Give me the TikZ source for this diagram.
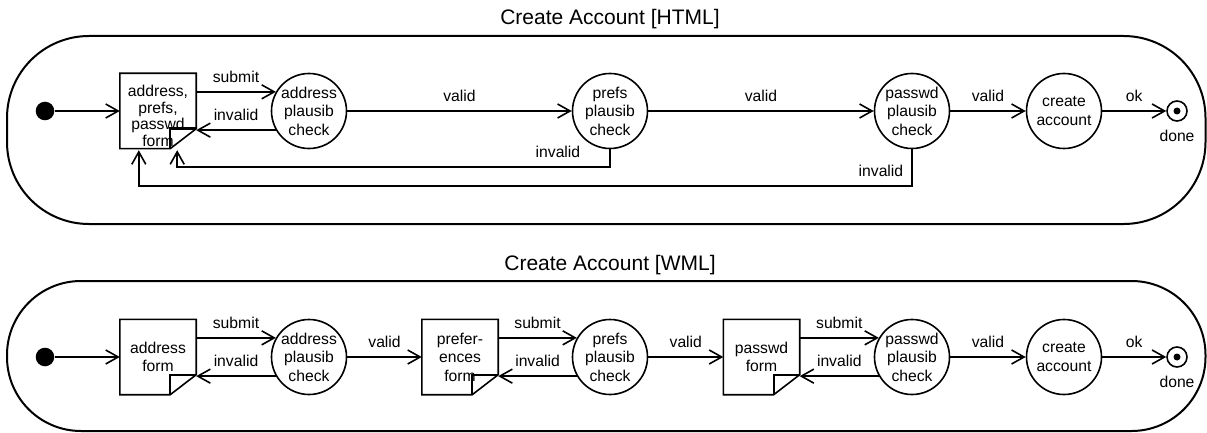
\documentclass[tikz,border=0pt]{standalone}
\usepackage{fontspec}
\setmainfont{Liberation Sans}
\usetikzlibrary{arrows.meta,calc}
\newcommand\formshape[1]{%
  \draw[line width=1.6pt, line join=miter] (#1.north west) -- (#1.north east) -- ([yshift=20pt]#1.south east) -- ([xshift=-26pt]#1.south east) -- (#1.south west) -- cycle;
  \draw[line width=2.4pt, line join=miter] ([xshift=-26pt]#1.south east) -- ([xshift=-26pt,yshift=20pt]#1.south east) -- ([yshift=20pt]#1.south east);}
\begin{document}
\begin{tikzpicture}[x=1pt,y=-1pt,
  every node/.style={font=\fontsize{15.7}{18.5}\selectfont},
  titlenode/.style={anchor=base, font=\fontsize{21}{24}\selectfont},
  statenode/.style={circle, draw, line width=1.6pt, minimum size=75pt, inner sep=0pt, align=center},
  formnode/.style={rectangle, minimum width=76pt, minimum height=75pt, inner sep=0pt, align=center},
  initdot/.style={circle, fill, minimum size=18.6pt, inner sep=0pt},
  finalnode/.style={circle, draw, line width=1.6pt, minimum size=20pt, inner sep=0pt,
     label={[inner sep=0pt, label distance=8pt]below:done}},
  arr/.style={line width=1.6pt, -{Straight Barb[length=12.5pt,width=14pt]}},
  lbl/.style={inner sep=0pt, above=8.5pt},
  panel/.style={line width=2pt}]
\useasboundingbox (0,0) rectangle (1207,433);

% ---------- top panel ----------
\node[titlenode] (t1) at (610,25) {Create Account [HTML]};
\draw[panel, rounded corners=82pt] (7,36) rectangle (1205.5,224);

\node[initdot] (i1) at (45,111) {};
\node[formnode, font=\fontsize{15.7}{16.4}\selectfont] (f1) at (158,111) {\rule{0pt}{21pt}address,\\prefs,\\passwd\\form};
\formshape{f1}
\node[statenode] (c1a) at (309,111) {address\\plausib\\check};
\node[statenode] (c1b) at (610,111) {prefs\\plausib\\check};
\node[statenode] (c1c) at (912,111) {passwd\\plausib\\check};
\node[statenode] (c1d) at (1064,111) {create\\account};
\node[finalnode] (d1) at (1177,111) {};
\fill (d1.center) circle (3.5pt);

\draw[arr] (i1) -- (f1);
\draw[arr] (f1.east |- c1a.150) -- node[lbl]{submit} (c1a.150);
\draw[arr] (c1a.210) -- node[lbl]{invalid} (c1a.210 -| f1.east);
\draw[arr] (c1a) -- node[lbl]{valid} (c1b);
\draw[arr] (c1b) -- node[lbl]{valid} (c1c);
\draw[arr] (c1c) -- node[lbl]{valid} (c1d);
\draw[arr] (c1d) -- node[lbl]{ok} (d1);
\draw[arr] (c1b.south) |- node[pos=0.5, anchor=south east, inner sep=0pt, xshift=-29pt, yshift=9pt]{invalid}
   ([xshift=-19pt,yshift=-18.5pt]f1.south east) -- ([xshift=-19pt,yshift=-1.5pt]f1.south east);
\draw[arr] (c1c.south) |- node[pos=0.5, anchor=south east, inner sep=0pt, xshift=-8pt, yshift=8.5pt]{invalid}
   ([xshift=19pt,yshift=-37.5pt]f1.south west) -- ([xshift=19pt,yshift=-1.5pt]f1.south west);

% ---------- bottom panel ----------
\node[titlenode] (t2) at (610,270) {Create Account [WML]};
\draw[panel, rounded corners=74pt] (7,281) rectangle (1205.5,431);

\node[initdot] (i2) at (45,357) {};
\node[formnode] (f2a) at (158,357) {address\\form};
\formshape{f2a}
\node[statenode] (c2a) at (309,357) {address\\plausib\\check};
\node[formnode] (f2b) at (460,357) {prefer-\\ences\\form};
\formshape{f2b}
\node[statenode] (c2b) at (610,357) {prefs\\plausib\\check};
\node[formnode] (f2c) at (761.5,357) {passwd\\form};
\formshape{f2c}
\node[statenode] (c2c) at (912,357) {passwd\\plausib\\check};
\node[statenode] (c2d) at (1064,357) {create\\account};
\node[finalnode] (d2) at (1177,357) {};
\fill (d2.center) circle (3.5pt);

\draw[arr] (i2) -- (f2a);
\draw[arr] (f2a.east |- c2a.150) -- node[lbl]{submit} (c2a.150);
\draw[arr] (c2a.210) -- node[lbl]{invalid} (c2a.210 -| f2a.east);
\draw[arr] (c2a) -- node[lbl]{valid} (f2b);
\draw[arr] (f2b.east |- c2b.150) -- node[lbl]{submit} (c2b.150);
\draw[arr] (c2b.210) -- node[lbl]{invalid} (c2b.210 -| f2b.east);
\draw[arr] (c2b) -- node[lbl]{valid} (f2c);
\draw[arr] (f2c.east |- c2c.150) -- node[lbl]{submit} (c2c.150);
\draw[arr] (c2c.210) -- node[lbl]{invalid} (c2c.210 -| f2c.east);
\draw[arr] (c2c) -- node[lbl]{valid} (c2d);
\draw[arr] (c2d) -- node[lbl]{ok} (d2);
\end{tikzpicture}
\end{document}
